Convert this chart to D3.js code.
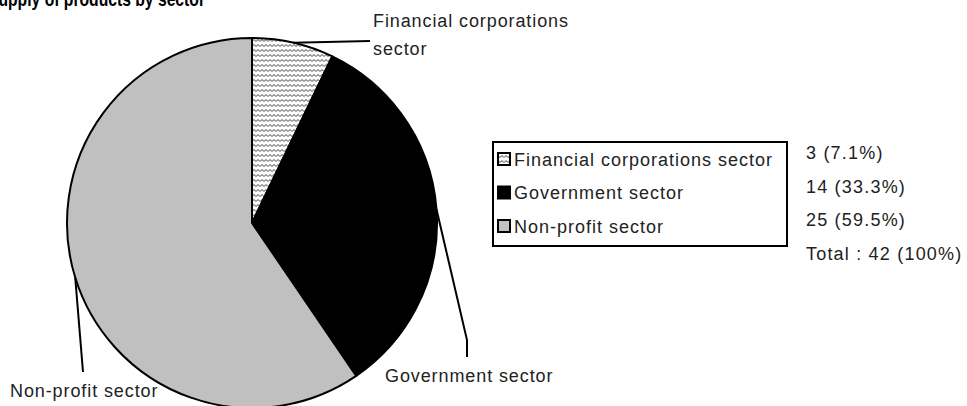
<!DOCTYPE html>
<html>
<head>
<meta charset="utf-8">
<script src="https://cdn.jsdelivr.net/npm/d3@7"></script>
<style>
  body { margin: 0; background: #fff; }
  text { font-family: "Liberation Sans", Arial, sans-serif; fill: #222; }
</style>
</head>
<body>
<div id="chart"></div>
<script>
var svgWidth = 967;
var svgHeight = 406;

// data
var sectors = ["Financial corporations sector", "Government sector", "Non-profit sector"];
var counts = [3, 14, 25];
var shares = ["7.1%", "33.3%", "59.5%"];
var totalLabel = "Total : 42 (100%)";
var sliceLabels = [["Financial corporations", "sector"], ["Government sector"], ["Non-profit sector"]];

var fills = ["url(#wave)", "#000000", "#c0c0c0"];

var svg = d3.select("#chart")
    .append("svg")
    .attr("width", svgWidth)
    .attr("height", svgHeight);

// wavy pattern for the financial slice
var defs = svg.append("defs");
var pat = defs.append("pattern")
    .attr("id", "wave")
    .attr("patternUnits", "userSpaceOnUse")
    .attr("width", 8)
    .attr("height", 5);
pat.append("rect").attr("width", 8).attr("height", 5).attr("fill", "#fff");
pat.append("path")
    .attr("d", "M0,3.5 L2,1.5 L4,3.5 L6,1.5 L8,3.5")
    .attr("fill", "none")
    .attr("stroke", "#8c8c8c")
    .attr("stroke-width", 1.2);

// title (cut off at the top of the frame, as in the source)
svg.append("text")
    .attr("x", -12)
    .attr("y", 6)
    .attr("textLength", 217)
    .attr("lengthAdjust", "spacingAndGlyphs")
    .style("font-size", "20px")
    .style("font-weight", "bold")
    .style("fill", "#000")
    .text("Supply of products by sector");

var cx = 252, cy = 223, radius = 185;

var pie = d3.pie().sort(null).value(function(d) { return d; });
var arcs = pie(counts);

var arc = d3.arc().innerRadius(0).outerRadius(radius);
var edge = d3.arc().innerRadius(radius).outerRadius(radius);

var pieGroup = svg.append("g")
    .attr("transform", `translate(${cx}, ${cy})`);

pieGroup.selectAll("path")
    .data(arcs)
    .enter()
    .append("path")
    .attr("d", arc)
    .attr("fill", function(d, i) { return fills[i]; })
    .attr("stroke", "#000")
    .attr("stroke-width", 2)
    .attr("stroke-linejoin", "round");

// leader lines: start at the middle of each slice's rim
var leaderEnds = [
    [[370, 41]],
    [[467, 340], [467, 357]],
    [[83, 372]]
];
arcs.forEach(function(d, i) {
    var p = edge.centroid(d);
    var pts = [[cx + p[0], cy + p[1]]].concat(leaderEnds[i]);
    svg.append("path")
        .attr("d", d3.line()(pts))
        .attr("fill", "none")
        .attr("stroke", "#000")
        .attr("stroke-width", 2);
});

// slice labels
var labelPos = [[373, 27], [385, 382], [10, 397]];
sliceLabels.forEach(function(lines, i) {
    lines.forEach(function(t, j) {
        svg.append("text")
            .attr("x", labelPos[i][0])
            .attr("y", labelPos[i][1] + j * 28)
            .style("font-size", "18px")
            .style("letter-spacing", "0.9px")
            .text(t);
    });
});

// legend
var legend = svg.append("g");
legend.append("rect")
    .attr("x", 493)
    .attr("y", 142)
    .attr("width", 294)
    .attr("height", 104)
    .attr("fill", "#fff")
    .attr("stroke", "#000")
    .attr("stroke-width", 2);

var rowY = d3.scalePoint().domain(sectors).range([159, 226]);

var rows = legend.selectAll(".row")
    .data(sectors)
    .enter()
    .append("g")
    .attr("class", "row")
    .attr("transform", function(d) { return `translate(0, ${rowY(d)})`; });

rows.append("rect")
    .attr("x", 498)
    .attr("y", -6)
    .attr("width", 12)
    .attr("height", 12)
    .attr("fill", function(d, i) { return fills[i]; })
    .attr("stroke", "#000")
    .attr("stroke-width", 2);

rows.append("text")
    .attr("x", 514)
    .attr("y", 6.5)
    .style("font-size", "18px")
    .style("letter-spacing", "1px")
    .text(function(d) { return d; });

// values on the right
var valueText = counts.map(function(c, i) { return c + " (" + shares[i] + ")"; }).concat([totalLabel]);
var valY = d3.scaleLinear().domain([0, 3]).range([159, 260]);
svg.selectAll(".val")
    .data(valueText)
    .enter()
    .append("text")
    .attr("class", "val")
    .attr("x", 806)
    .attr("y", function(d, i) { return valY(i); })
    .style("font-size", "18px")
    .style("letter-spacing", "1.2px")
    .text(function(d) { return d; });
</script>
</body>
</html>
